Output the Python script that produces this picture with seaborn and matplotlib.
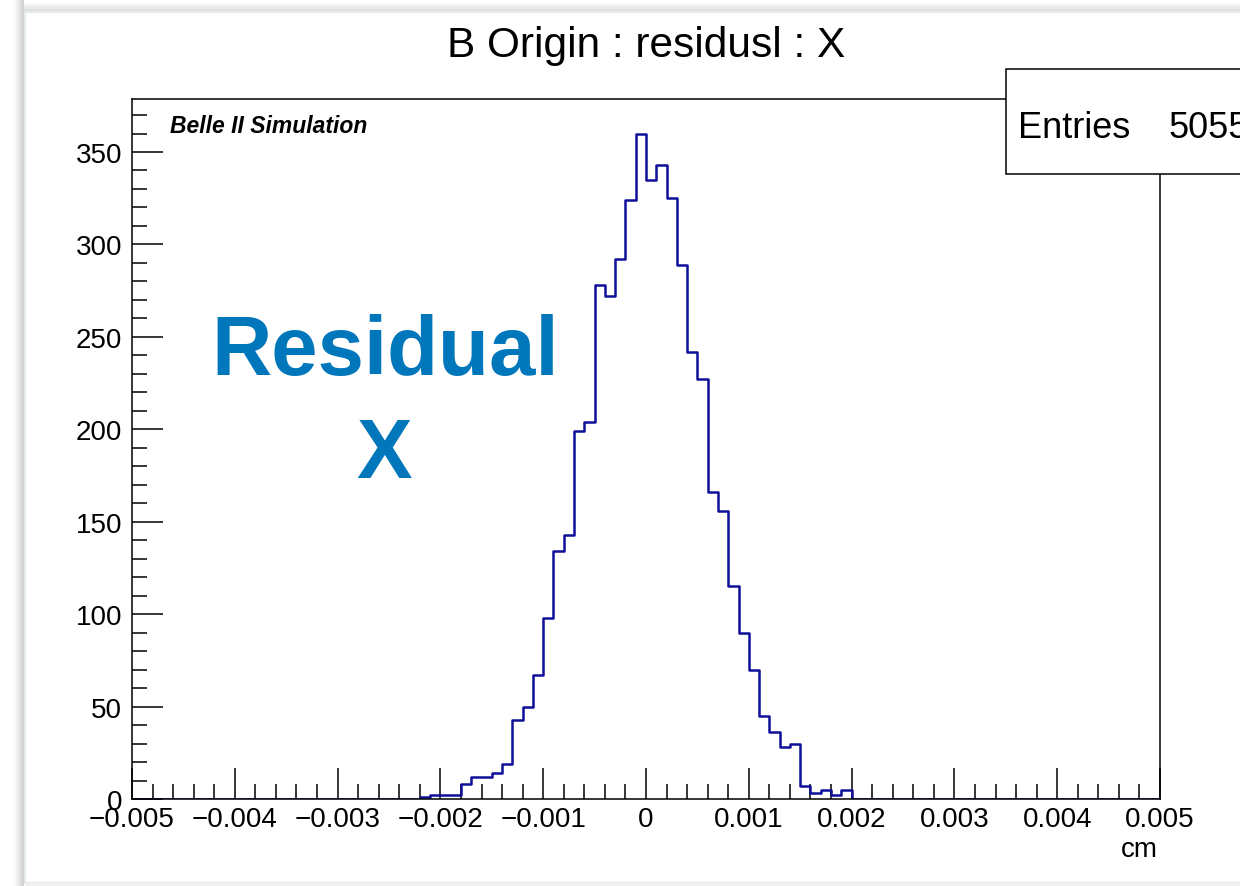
import numpy as np
import pandas as pd
import matplotlib
matplotlib.use("Agg")
import matplotlib.pyplot as plt
from matplotlib.patches import Rectangle
from matplotlib.ticker import MultipleLocator, FixedLocator, FixedFormatter
import seaborn as sns

# ---------------- data ----------------
x_min, x_max, n_bins = -0.005, 0.005, 100
first_bin = 28  # index of first non-empty bin
counts_nonzero = [1, 2, 2, 2, 8, 12, 12, 14, 19, 43, 50, 67, 98, 134, 143, 199,
                  204, 278, 272, 292, 324, 360, 335, 343, 325, 289, 242, 227,
                  166, 156, 115, 90, 70, 45, 36, 28, 30, 7, 3, 5, 2, 5]
entries = 5055
x_tick_values = [-0.005, -0.004, -0.003, -0.002, -0.001, 0.0, 0.001, 0.002, 0.003, 0.004, 0.005]
x_tick_labels = ["\u22120.005", "\u22120.004", "\u22120.003", "\u22120.002", "\u22120.001",
                 "0", "0.001", "0.002", "0.003", "0.004", "0.005"]
y_tick_values = [0, 50, 100, 150, 200, 250, 300, 350]
y_tick_labels = ["0", "50", "100", "150", "200", "250", "300", "350"]
title = "B Origin : residusl : X"
x_label = "cm"

edges = np.linspace(x_min, x_max, n_bins + 1)
centers = 0.5 * (edges[:-1] + edges[1:])
counts = np.zeros(n_bins)
counts[first_bin:first_bin + len(counts_nonzero)] = counts_nonzero
df = pd.DataFrame({"x": centers, "w": counts})

# ---------------- style ----------------
sns.set_style("ticks")
plt.rcParams['font.family'] = ['Liberation Sans', 'DejaVu Sans']
plt.rcParams['text.color'] = 'black'
plt.rcParams['xtick.color'] = 'black'
plt.rcParams['ytick.color'] = 'black'
plt.rcParams['xtick.labelcolor'] = 'black'
plt.rcParams['ytick.labelcolor'] = 'black'
plt.rcParams['axes.edgecolor'] = 'black'

W, H = 1240, 887
fig = plt.figure(figsize=(W / 100, H / 100), dpi=100)
fig.patch.set_facecolor("white")

def fx(px):
    return px / W

def fy(py):
    return 1 - py / H

# canvas shadow / frame
for i, c in enumerate(["#f8f8f8", "#f0f0f0", "#e7e7e7", "#dcdcdc", "#d3d3d3"]):
    fig.patches.append(Rectangle((fx(14 + 2 * i), 0), fx(2), 1, transform=fig.transFigure,
                                 facecolor=c, edgecolor="none", zorder=-5))
for i, c in enumerate(["#f8f8f8", "#f0f0f0", "#e8e8e8", "#e0e0e0"]):
    fig.patches.append(Rectangle((fx(24), fy(6 + 2 * i)), 1, 2 / H, transform=fig.transFigure,
                                 facecolor=c, edgecolor="none", zorder=-5))
fig.patches.append(Rectangle((fx(25), fy(884)), 1, (884 - 13) / H, transform=fig.transFigure,
                             facecolor="white", edgecolor="#e4eaea", linewidth=1.5, zorder=-4))
fig.patches.append(Rectangle((fx(25), 0), 1, 3 / H, transform=fig.transFigure,
                             facecolor="#f1f1f1", edgecolor="none", zorder=-4))

ax = fig.add_axes([fx(132), fy(800), (1160 - 132) / W, 700 / H])
ax.set_facecolor("none")

sns.histplot(data=df, x="x", weights="w", bins=n_bins, binrange=(x_min, x_max),
             element="step", fill=False, color="#0f0f9a", linewidth=1.8, ax=ax)

ax.set_xlim(x_min, x_max)
ax.set_ylim(0, 700 / 1.8486)
ax.set_xlabel("")
ax.set_ylabel("")

ax.xaxis.set_major_locator(FixedLocator(x_tick_values))
ax.xaxis.set_major_formatter(FixedFormatter(x_tick_labels))
ax.xaxis.set_minor_locator(MultipleLocator(0.0002))
ax.yaxis.set_major_locator(FixedLocator(y_tick_values))
ax.yaxis.set_major_formatter(FixedFormatter(y_tick_labels))
ax.yaxis.set_minor_locator(MultipleLocator(10))

ax.tick_params(which="major", direction="in", length=22, width=1.1, labelsize=20,
               top=False, right=False, color="black", labelcolor="black")
ax.tick_params(which="minor", direction="in", length=11, width=1.1,
               top=False, right=False, color="black")
ax.tick_params(axis="y", which="major", pad=7)
ax.tick_params(axis="x", which="major", pad=5)
for s in ax.spines.values():
    s.set_visible(True)
    s.set_linewidth(1.1)
    s.set_color("black")
    s.set_zorder(3)

# texts
fig.text(fx(646), fy(57), title, ha="center", va="baseline", fontsize=30.5, color="black")
fig.text(fx(1158), fy(857), x_label, ha="right", va="baseline", fontsize=20, color="black")
fig.text(fx(170), fy(133), "Belle II Simulation", ha="left", va="baseline",
         fontsize=16.5, fontweight="bold", fontstyle="italic", color="black")
fig.text(fx(385), fy(375), "Residual", ha="center", va="baseline",
         fontsize=60, fontweight="bold", color="#0077bb")
fig.text(fx(384), fy(478), "X", ha="center", va="baseline",
         fontsize=60, fontweight="bold", color="#0077bb")

# stats box
fig.patches.append(Rectangle((fx(1006), fy(175)), fx(260), 105 / H, transform=fig.transFigure,
                             facecolor="white", edgecolor="black", linewidth=1.1, zorder=5))
fig.text(fx(1018), fy(138), "Entries", ha="left", va="baseline", fontsize=26, zorder=6, color="black")
fig.text(fx(1168), fy(138), str(entries), ha="left", va="baseline", fontsize=26, zorder=6, color="black")

fig.savefig("out.png", dpi=100)
